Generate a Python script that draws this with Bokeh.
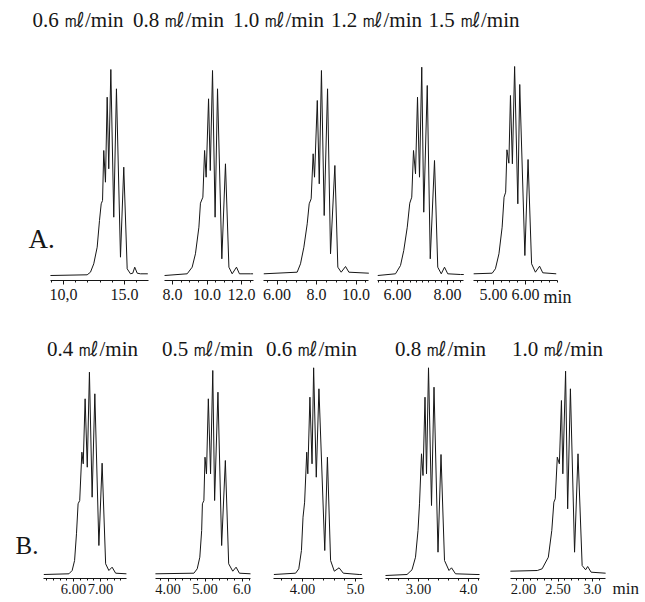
import numpy as np
from bokeh.plotting import figure
from bokeh.layouts import column, row
from bokeh.models import Range1d, LinearAxis, FixedTicker
from bokeh.core.properties import value
from bokeh.embed import file_html
from bokeh.resources import INLINE

SERIF = "Liberation Serif"
INK = "#161616"

# ---------------- data ----------------
titles_a = ["0.6 ㎖/min", "0.8 ㎖/min", "1.0 ㎖/min", "1.2 ㎖/min", "1.5 ㎖/min"]
titles_b = ["0.4 ㎖/min", "0.5 ㎖/min", "0.6 ㎖/min", "0.8 ㎖/min", "1.0 ㎖/min"]

# retention time (min) / detector response (arbitrary units)
a1_time = [8.93, 11.94, 12.21, 12.48, 12.76, 12.95, 13.09, 13.20, 13.30, 13.44, 13.58, 13.71,
           13.88, 14.12, 14.34, 14.67, 14.94, 15.22, 15.49, 15.68, 15.84, 16.04, 16.31, 16.91]
a1_resp = [0, 0.7, 3.3, 11.7, 28.3, 55, 71.7, 75, 125, 93.3, 178.3, 106.7,
           206, 58.3, 186.7, 18.3, 108.3, 6.7, 1.7, 2.3, 8.3, 2.3, 1.7, 1.7]

a2_time = [7.54, 8.85, 9.14, 9.33, 9.53, 9.62, 9.76, 9.86, 9.95, 10.09, 10.19, 10.32,
           10.47, 10.61, 10.86, 11.07, 11.27, 11.46, 11.71, 11.88, 12.52, 12.67]
a2_resp = [0, 1.7, 8.3, 21.7, 48.3, 72.3, 78.3, 125, 98.3, 176.7, 105, 205,
           58.3, 186.7, 16.7, 111.7, 8.3, 1.7, 8.3, 1.7, 1.7, 1.7]

a3_time = [5.33, 7.02, 7.19, 7.36, 7.53, 7.63, 7.73, 7.83, 7.90, 8.04, 8.14, 8.25,
           8.39, 8.56, 8.71, 8.93, 9.08, 9.25, 9.47, 9.64, 10.65]
a3_resp = [1.7, 3.3, 11.7, 28.3, 51.7, 71.7, 76.7, 121.7, 98.3, 175, 91.7, 205,
           60, 186.7, 21.7, 110, 8.3, 3.3, 9, 3.3, 2.3]

a4_time = [5.21, 5.92, 6.12, 6.25, 6.39, 6.49, 6.57, 6.64, 6.72, 6.80, 6.88, 6.97,
           7.05, 7.19, 7.31, 7.48, 7.61, 7.75, 7.88, 8.01, 8.52, 8.65]
a4_resp = [0, 1.7, 10, 25, 48.3, 72.3, 78.3, 125, 101.7, 178.3, 98.3, 208.3,
           63.3, 190, 16.7, 115, 8.3, 1.7, 8.3, 1.7, 1, 1]

a5_time = [4.38, 4.96, 5.06, 5.17, 5.27, 5.33, 5.38, 5.42, 5.48, 5.53, 5.59, 5.66,
           5.76, 5.82, 5.98, 6.08, 6.19, 6.31, 6.44, 6.54, 6.96]
a5_resp = [1.7, 2.3, 6.7, 21.7, 48.3, 78.3, 83.3, 125.7, 112.3, 180, 111.7, 209,
           71.7, 191, 20, 116, 11.7, 3.3, 9.3, 2.7, 1.7]

b1_time = [4.90, 5.83, 5.95, 6.04, 6.11, 6.17, 6.23, 6.31, 6.36, 6.43, 6.51, 6.59,
           6.69, 6.79, 6.94, 7.06, 7.19, 7.31, 7.43, 7.56, 7.96]
b1_resp = [1, 1.7, 5, 15, 41.7, 71.7, 75, 123.3, 111.7, 176.7, 108.3, 203.3,
           78.3, 181.7, 30, 112.3, 11.7, 5, 8.3, 2.3, 1.7]

b2_time = [3.66, 4.70, 4.79, 4.86, 4.91, 4.93, 4.97, 5.00, 5.04, 5.09, 5.15, 5.21,
           5.26, 5.35, 5.45, 5.55, 5.64, 5.75, 5.84, 5.93, 6.23]
b2_resp = [1.7, 2.3, 6.7, 18.3, 45, 71.7, 75, 118.3, 101.7, 176.7, 101.7, 205,
           75, 183.3, 30, 115, 11.7, 4.3, 8.3, 2.3, 1.7]

b3_time = [3.46, 3.87, 3.93, 3.98, 4.01, 4.04, 4.08, 4.10, 4.14, 4.18, 4.21, 4.26,
           4.31, 4.42, 4.47, 4.53, 4.60, 4.69, 4.77, 5.07, 5.12]
b3_resp = [1, 2.3, 6.7, 25, 58.3, 73.3, 123.3, 101.7, 178.3, 111.7, 207.7, 98.3,
           186.7, 25, 118.3, 15, 4.3, 7.7, 2.3, 1, 1]

b4_time = [2.34, 2.77, 2.87, 2.94, 2.99, 3.02, 3.06, 3.09, 3.13, 3.16, 3.20, 3.26,
           3.31, 3.39, 3.45, 3.52, 3.61, 3.66, 3.74, 4.17, 4.22]
b4_resp = [0, 1, 5.7, 18.3, 45, 71.7, 121.7, 100, 178.3, 101.7, 207.7, 70,
           188.3, 23.3, 121, 15, 5, 7.7, 1.7, 1, 1]

b5_time = [1.81, 2.20, 2.27, 2.36, 2.41, 2.44, 2.46, 2.49, 2.52, 2.55, 2.57, 2.61,
           2.64, 2.68, 2.74, 2.79, 2.85, 2.90, 2.93, 2.98, 3.19]
b5_resp = [4.3, 5, 6.7, 18.3, 45, 73.3, 76.7, 118.3, 111.7, 175, 101.7, 204.3,
           66.7, 186.7, 23.3, 121.7, 10, 5.7, 9, 3.3, 2.3]

a1_ticks, a1_tick_labels = [10, 15], ["10,0", "15.0"]
a2_ticks, a2_tick_labels = [8, 10, 12], ["8.0", "10.0", "12.0"]
a3_ticks, a3_tick_labels = [6, 8, 10], ["6.00", "8.0", "10.0"]
a4_ticks, a4_tick_labels = [6, 8], ["6.00", "8.00"]
a5_ticks, a5_tick_labels = [5, 6], ["5.00", "6.00"]
b1_ticks, b1_tick_labels = [6, 7], ["6.00", "7.00"]
b2_ticks, b2_tick_labels = [4, 5, 6], ["4.00", "5.00", "6.0"]
b3_ticks, b3_tick_labels = [4, 5], ["4.00", "5.0"]
b4_ticks, b4_tick_labels = [3, 4], ["3.00", "4.0"]
b5_ticks, b5_tick_labels = [2, 2.5, 3], ["2.00", "2.50", "3.0"]

# ---------------- layout (page pixels, origin at top-left of page) ----------------
STRIP_H = 34
ROW_A = dict(top=34, bottom=306, axis=280, base=275, tick_out=4, standoff=4,
             label_size="16px", unit_px=543, unit_py=296, unit_size="18px")
ROW_B = dict(top=306, bottom=602, axis=578, base=575, tick_out=3, standoff=2,
             label_size="14.5px", unit_px=612, unit_py=588, unit_size="17px")

panels_a = [
    dict(t=a1_time, y=a1_resp, ticks=a1_ticks, labels=a1_tick_labels, cal=(10, 63, 12.2),
         axis=(8.93, 16.97), minor=1.0, cell=(0, 156)),
    dict(t=a2_time, y=a2_resp, ticks=a2_ticks, labels=a2_tick_labels, cal=(8, 172, 17.25),
         axis=(7.54, 12.70), minor=0.5, cell=(156, 258)),
    dict(t=a3_time, y=a3_resp, ticks=a3_ticks, labels=a3_tick_labels, cal=(6, 276.5, 19.75),
         axis=(5.33, 10.65), minor=0.5, cell=(258, 372)),
    dict(t=a4_time, y=a4_resp, ticks=a4_ticks, labels=a4_tick_labels, cal=(6, 397, 25),
         axis=(5.2, 8.65), minor=0.25, cell=(372, 468)),
    dict(t=a5_time, y=a5_resp, ticks=a5_ticks, labels=a5_tick_labels, cal=(5, 493, 32),
         axis=(4.375, 7.0), minor=0.25, cell=(468, 645)),
]
panels_b = [
    dict(t=b1_time, y=b1_resp, ticks=b1_ticks, labels=b1_tick_labels, cal=(6, 73, 27),
         axis=(4.89, 7.96), minor=0.25, cell=(0, 142)),
    dict(t=b2_time, y=b2_resp, ticks=b2_ticks, labels=b2_tick_labels, cal=(4, 167.5, 37),
         axis=(3.66, 6.23), minor=0.2, cell=(142, 262)),
    dict(t=b3_time, y=b3_resp, ticks=b3_ticks, labels=b3_tick_labels, cal=(4, 302, 53),
         axis=(3.45, 5.13), minor=0.2, cell=(262, 374)),
    dict(t=b4_time, y=b4_resp, ticks=b4_ticks, labels=b4_tick_labels, cal=(3, 418, 50),
         axis=(2.34, 4.22), minor=0.2, cell=(374, 496)),
    dict(t=b5_time, y=b5_resp, ticks=b5_ticks, labels=b5_tick_labels, cal=(2, 523, 69),
         axis=(1.81, 3.19), minor=0.1, cell=(496, 645)),
]

title_a_x = [77.5, 178, 278, 376, 473.5]
title_a_y = 19
title_b_x = [92, 207, 311, 440, 557]
title_b_y = 348


def minor_ticks(lo, hi, step):
    k0 = int(np.ceil(lo / step - 1e-9))
    k1 = int(np.floor(hi / step + 1e-9))
    return [round(k * step, 4) for k in range(k0, k1 + 1)]


def make_panel(spec, rc):
    tref, pref, s = spec["cal"]
    L, R = spec["cell"]

    def to_t(px):
        return tref + (px - pref) / s

    def to_y(py):
        return rc["base"] - py

    p = figure(width=R - L, height=rc["bottom"] - rc["top"],
               x_range=Range1d(to_t(L), to_t(R)),
               y_range=Range1d(to_y(rc["bottom"]), to_y(rc["top"])),
               x_axis_location=None, y_axis_location=None,
               toolbar_location=None, output_backend="svg",
               min_border_left=0, min_border_right=0, min_border_top=0,
               min_border_bottom=0)
    p.outline_line_color = None
    p.background_fill_color = "white"
    p.border_fill_color = "white"
    p.grid.visible = False

    lo, hi = spec["axis"]
    ax = LinearAxis(
        bounds=(lo, hi),
        fixed_location=to_y(rc["axis"]),
        ticker=FixedTicker(ticks=spec["ticks"], minor_ticks=minor_ticks(lo, hi, spec["minor"])),
        major_label_overrides={float(v): lab for v, lab in zip(spec["ticks"], spec["labels"])},
        major_label_text_font=SERIF, major_label_text_font_size=rc["label_size"],
        major_label_text_color=INK, major_label_standoff=rc["standoff"],
        major_tick_in=0, major_tick_out=rc["tick_out"],
        minor_tick_in=0, minor_tick_out=2,
        axis_line_color=INK, major_tick_line_color=INK, minor_tick_line_color=INK,
        axis_line_width=1,
    )
    p.add_layout(ax, "below")
    p.line(spec["t"], spec["y"], line_color=INK, line_width=1)
    return p, to_t, to_y


def add_text(p, x, y, txt, size, align="left"):
    p.text(x=[x], y=[y], text=[txt], text_font=value(SERIF), text_font_size=size,
           text_color=INK, text_align=align, text_baseline="middle")


figs_a = []
for i, spec in enumerate(panels_a):
    p, to_t, to_y = make_panel(spec, ROW_A)
    if i == 0:
        add_text(p, to_t(28), to_y(238), "A.", "27px")
    if i == len(panels_a) - 1:
        add_text(p, to_t(ROW_A["unit_px"]), to_y(ROW_A["unit_py"]), "min", ROW_A["unit_size"])
    figs_a.append(p)

figs_b = []
for i, spec in enumerate(panels_b):
    p, to_t, to_y = make_panel(spec, ROW_B)
    add_text(p, to_t(title_b_x[i]), to_y(title_b_y), titles_b[i], "21px", align="center")
    if i == 0:
        add_text(p, to_t(15), to_y(545), "B.", "25px")
    if i == len(panels_b) - 1:
        add_text(p, to_t(ROW_B["unit_px"]), to_y(ROW_B["unit_py"]), "min", ROW_B["unit_size"])
    figs_b.append(p)

strip = figure(width=645, height=STRIP_H, x_range=Range1d(0, 645), y_range=Range1d(STRIP_H, 0),
               x_axis_location=None, y_axis_location=None, toolbar_location=None,
               output_backend="svg", min_border_left=0, min_border_right=0,
               min_border_top=0, min_border_bottom=0)
strip.outline_line_color = None
strip.grid.visible = False
strip.text(x=title_a_x, y=[title_a_y] * len(title_a_x), text=titles_a,
           text_font=value(SERIF), text_font_size="21px", text_color=INK,
           text_align="center", text_baseline="middle")

layout = column(strip, row(*figs_a), row(*figs_b))
open("out.html", "w").write(file_html(layout, INLINE))
